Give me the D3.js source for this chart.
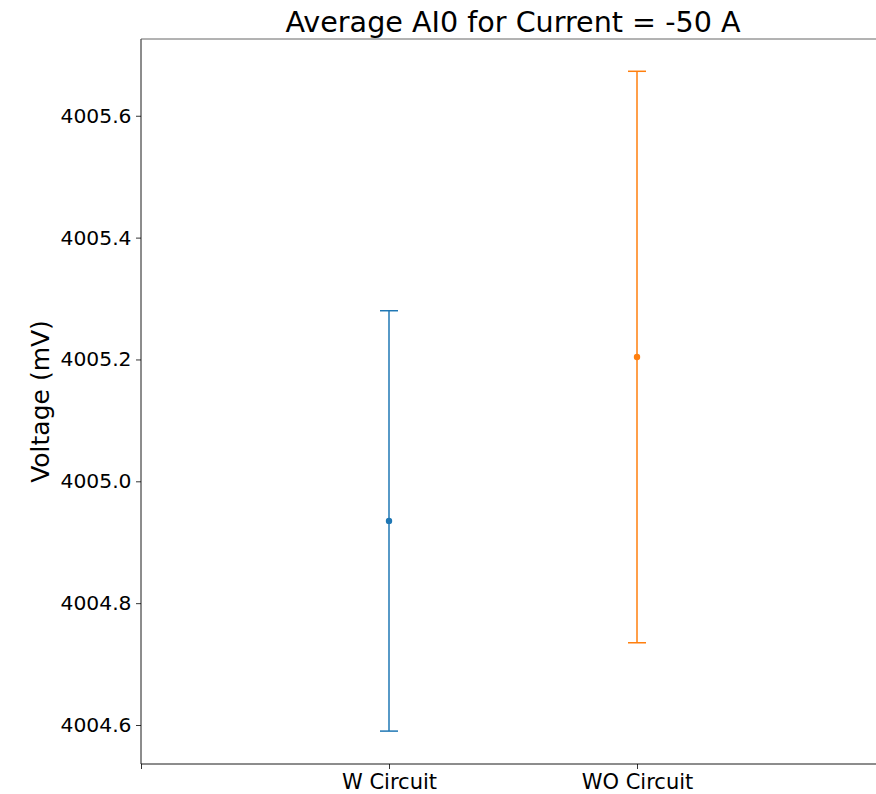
<!DOCTYPE html>
<html>
<head>
<meta charset="utf-8">
<script src="https://cdn.jsdelivr.net/npm/d3@7"></script>
<style>
  html, body { margin: 0; padding: 0; background: #fff; }
  svg { display: block; font-family: "DejaVu Sans", sans-serif; }
</style>
</head>
<body>
<svg id="chart" width="876" height="794"></svg>
<script>
// Mean AI0 voltage with and without the circuit, ± one error margin
const categories = ["W Circuit", "WO Circuit"];
const means = [4004.935, 4005.204];
const errors = [0.345, 0.469];
const colors = ["#1f77b4", "#ff7f0e"];
const yTicks = [4004.6, 4004.8, 4005.0, 4005.2, 4005.4, 4005.6];
const xTickPositions = [0, 1, 2, 3];
const xTickLabels = ["", "W Circuit", "WO Circuit", ""];

const svg = d3.select("#chart");
const plotLeft = 141, plotRight = 885, plotTop = 39, plotBottom = 764;

const x = d3.scaleLinear().domain([0, 3]).range([plotLeft, plotRight]);
const y = d3.scaleLinear().domain([4004.536, 4005.726]).range([plotBottom, plotTop]);

// Axes
const yAxis = d3.axisLeft(y).tickValues(yTicks).tickFormat(d3.format(".1f")).tickSize(5).tickPadding(4.5);
const gy = svg.append("g").attr("transform", `translate(${plotLeft},0)`).call(yAxis);
gy.select(".domain").remove();
gy.selectAll("text").attr("font-size", 20.3).attr("fill", "#000").attr("font-family", "DejaVu Sans");
gy.selectAll("line").attr("stroke", "#000").attr("stroke-width", 0.8);

const xAxis = d3.axisBottom(x).tickValues(xTickPositions).tickFormat((d, i) => xTickLabels[i]).tickSize(5).tickPadding(5);
const gx = svg.append("g").attr("transform", `translate(0,${plotBottom})`).call(xAxis);
gx.select(".domain").remove();
gx.selectAll("text").attr("font-size", 21).attr("fill", "#000").attr("font-family", "DejaVu Sans");
gx.selectAll("line").attr("stroke", "#000").attr("stroke-width", 0.8);

// Spines
const spine = svg.append("g").attr("stroke", "#000").attr("stroke-width", 0.9).attr("fill", "none");
spine.append("line").attr("x1", plotLeft).attr("x2", plotLeft).attr("y1", plotTop).attr("y2", plotBottom);
spine.append("line").attr("x1", plotLeft).attr("x2", plotRight).attr("y1", plotBottom).attr("y2", plotBottom);
spine.append("line").attr("x1", plotLeft).attr("x2", plotRight).attr("y1", plotTop).attr("y2", plotTop).attr("stroke", "#555");
spine.append("line").attr("x1", plotRight).attr("x2", plotRight).attr("y1", plotTop).attr("y2", plotBottom);

// Error bars
const capHalf = 9;
const bars = svg.append("g").selectAll("g").data(categories).join("g");
bars.each(function(c, i) {
  const g = d3.select(this);
  const cx = x(i + 1);
  const lo = y(means[i] - errors[i]);
  const hi = y(means[i] + errors[i]);
  g.append("line").attr("x1", cx).attr("x2", cx).attr("y1", hi).attr("y2", lo)
    .attr("stroke", colors[i]).attr("stroke-width", 1.5);
  [hi, lo].forEach(v => {
    g.append("line").attr("x1", cx - capHalf).attr("x2", cx + capHalf).attr("y1", v).attr("y2", v)
      .attr("stroke", colors[i]).attr("stroke-width", 1.5);
  });
  g.append("circle").attr("cx", cx).attr("cy", y(means[i])).attr("r", 3.2).attr("fill", colors[i]);
});

// Title and axis label
svg.append("text").attr("x", (plotLeft + plotRight) / 2).attr("y", 32).attr("text-anchor", "middle")
  .attr("font-size", 28.6).attr("fill", "#000").text("Average AI0 for Current = -50 A");
svg.append("text").attr("transform", `translate(49,${(plotTop + plotBottom) / 2}) rotate(-90)`)
  .attr("text-anchor", "middle").attr("font-size", 25).attr("fill", "#000").text("Voltage (mV)");
</script>
</body>
</html>
